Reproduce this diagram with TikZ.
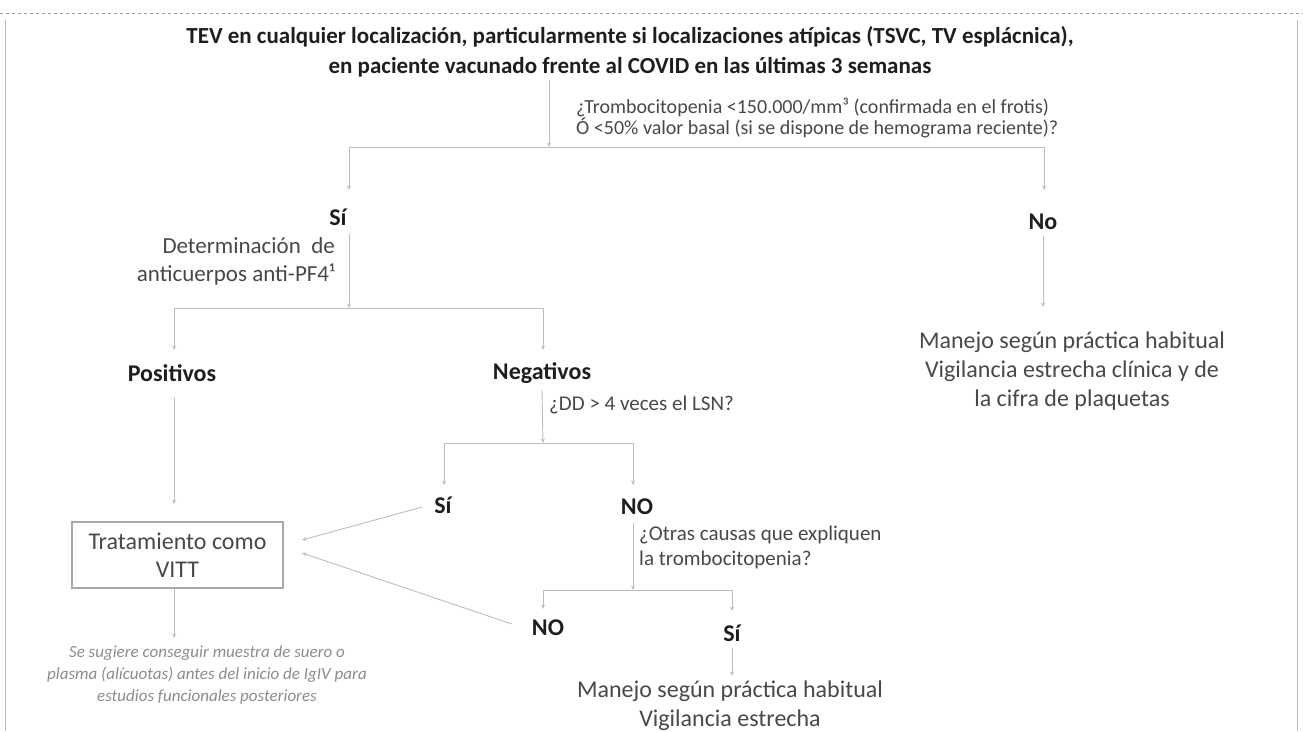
\documentclass[tikz,border=0pt]{standalone}
\usepackage{fontspec}
\setmainfont{Carlito}
\usetikzlibrary{arrows.meta}
\definecolor{linec}{HTML}{BDBDBD}
\definecolor{boldc}{HTML}{1E1E1E}
\definecolor{regc}{HTML}{484848}
\definecolor{notec}{HTML}{8C8C8C}
\definecolor{boxc}{HTML}{A8A8A8}
\definecolor{framec}{HTML}{9A9A9A}
\begin{document}
\begin{tikzpicture}[x=1pt,y=-1pt,
  ln/.style={draw=linec, line width=0.9pt},
  arr/.style={ln, -{Stealth[length=4.5pt,width=4pt]}},
  titlest/.style={font=\fontsize{23}{30}\selectfont\bfseries, text=boldc, inner sep=0pt, align=center},
  qst/.style={font=\fontsize{20}{21}\selectfont, text=regc, inner sep=0pt, align=left},
  lab/.style={font=\fontsize{24}{26}\selectfont\bfseries, text=boldc, inner sep=0pt},
  bigtxt/.style={font=\fontsize{24}{29}\selectfont, text=regc, inner sep=0pt, align=center},
  notest/.style={font=\fontsize{17}{22}\selectfont\itshape, text=notec, inner sep=0pt, align=center},
  boxst/.style={draw=boxc, line width=1.1pt, minimum width=211pt, minimum height=66pt, inner sep=0pt,
     font=\fontsize{24}{28}\selectfont, text=regc, align=center}
]
\useasboundingbox (0,0) rectangle (1303,731);
% frame of the scanned page
\draw[framec, dashed, line width=0.8pt] (0,13) -- (1303,13);
\draw[linec, line width=0.8pt] (5,20) -- (5,731);
\draw[linec, line width=0.8pt] (1297,20) -- (1297,731);

% texts
\node[titlest] (title) at (630,52) {TEV en cualquier localización, particularmente si localizaciones atípicas (TSVC, TV esplácnica),\\en paciente vacunado frente al COVID en las últimas 3 semanas};
\node[qst, anchor=west] (q1) at (576,118) {¿Trombocitopenia <150.000/mm³ (confirmada en el frotis)\\Ó <50\% valor basal (si se dispone de hemograma reciente)?};

\node[lab] (siA) at (338,217) {Sí};
\node[qst, align=right, anchor=east, font=\fontsize{23}{28}\selectfont] (det) at (335,261) {Determinación\ \ de\\anticuerpos anti-PF4¹};

\node[lab] (noA) at (1043,222) {No};
\node[bigtxt] (manA) at (1072,371) {Manejo según práctica habitual\\Vigilancia estrecha clínica y de\\la cifra de plaquetas};

\node[lab] (pos) at (172,373) {Positivos};
\node[lab] (neg) at (542,373) {Negativos};
\node[qst, anchor=west, font=\fontsize{21}{25}\selectfont] (dd) at (549,405) {¿DD > 4 veces el LSN?};

\node[lab] (siB) at (443,505) {Sí};
\node[lab] (noB) at (637,507) {NO};
\node[qst, anchor=west, font=\fontsize{21}{25}\selectfont] (otras) at (639,547) {¿Otras causas que expliquen\\la trombocitopenia?};

\node[lab] (noC) at (548,628) {NO};
\node[lab] (siC) at (732,633) {Sí};
\node[bigtxt] (manB) at (730,706) {Manejo según práctica habitual\\Vigilancia estrecha};

\node[boxst] (vitt) at (177.5,555) {Tratamiento como\\VITT};
\node[notest] (note) at (207,675) {Se sugiere conseguir muestra de suero o\\plasma (alícuotas) antes del inicio de IgIV para\\estudios funcionales posteriores};

% junction coordinates
\coordinate (j1) at (549,147);
\coordinate (jL) at (349,147);
\coordinate (jR) at (1044,147);
\coordinate (aSiA) at (349,190);
\coordinate (aNoA) at (1044,190);
\coordinate (j2) at (349,308);
\coordinate (j2L) at (174,308);
\coordinate (j2R) at (543,308);
\coordinate (aPos) at (174,350);
\coordinate (aNeg) at (543,350);
\coordinate (j3) at (543,443);
\coordinate (j3L) at (444,443);
\coordinate (j3R) at (633,443);
\coordinate (aSiB) at (444,485);
\coordinate (aNoB) at (633,485);
\coordinate (j4) at (633,590);
\coordinate (j4L) at (543,590);
\coordinate (j4R) at (732,590);
\coordinate (aNoC) at (543,609);
\coordinate (aSiC) at (732,611);
\coordinate (aManB) at (732,676);
\coordinate (aManA) at (1043,307);
\coordinate (aVitt) at (174,504);
\coordinate (aNote) at (174,638);
\coordinate (inVitt1) at (302,540);
\coordinate (inVitt2) at (302,553);

% connectors
\draw[arr] (j1 |- title.south) ++(0,2) -- (j1);
\draw[ln] (jL) -- (jR);
\draw[arr] (jL) -- (aSiA);
\draw[arr] (jR) -- (aNoA);

\draw[arr] (siA.south -| j2) ++(0,8) -- (j2);
\draw[ln] (j2L) -- (j2R);
\draw[arr] (j2L) -- (aPos);
\draw[arr] (j2R) -- (aNeg);

\draw[arr] (noA.south) ++(0,6) -- (aManA);

\draw[arr] (pos.south -| aVitt) ++(0,16) -- (aVitt);
\draw[arr] (neg.south) ++(0,6) -- (j3);
\draw[ln] (j3L) -- (j3R);
\draw[arr] (j3L) -- (aSiB);
\draw[arr] (j3R) -- (aNoB);

\draw[arr] (noB.south -| j4) ++(0,8) -- (j4);
\draw[ln] (j4L) -- (j4R);
\draw[arr] (j4L) -- (aNoC);
\draw[arr] (j4R) -- (aSiC);
\draw[arr] (siC.south) ++(0,6) -- (aManB);

\draw[arr] (siB.west) ++(-12,2) -- (inVitt1);
\draw[arr] (noC.west) ++(-20,-4) -- (inVitt2);
\draw[arr] (vitt.south -| aNote) -- (aNote);
\end{tikzpicture}
\end{document}
